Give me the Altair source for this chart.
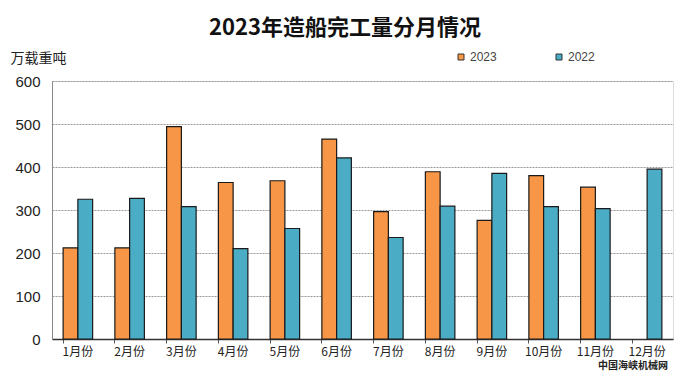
import altair as alt
import pandas as pd

months = ["1月份", "2月份", "3月份", "4月份", "5月份", "6月份",
          "7月份", "8月份", "9月份", "10月份", "11月份", "12月份"]
v2023 = [212, 212, 494, 364, 368, 465, 296, 389, 276, 380, 353, None]
v2022 = [325, 327, 308, 210, 257, 421, 236, 309, 385, 308, 303, 395]
series = ["2023", "2022"]
colors = ["#F79646", "#4BACC6"]
title_text = "2023年造船完工量分月情况"
source_text = "中国海峡机械网"

rows = []
for m, a, b in zip(months, v2023, v2022):
    if a is not None:
        rows.append({"month": m, "year": "2023", "value": a})
    if b is not None:
        rows.append({"month": m, "year": "2022", "value": b})
df = pd.DataFrame(rows)

FONT = "Noto Sans CJK SC"

bars = alt.Chart(df).mark_bar(stroke="#1a1a1a", strokeWidth=1.2).encode(
    x=alt.X("month:N", sort=months,
            scale=alt.Scale(paddingInner=0.43, paddingOuter=0.215),
            axis=alt.Axis(title=None, labelAngle=0, labelFont=FONT, labelFontSize=12,
                          labelColor="#222", labelPadding=3, bandPosition=0,
                          tickSize=4, tickColor="#555", domainColor="#333",
                          domainWidth=1.5, grid=False)),
    xOffset=alt.XOffset("year:N", sort=series, scale=alt.Scale(domain=series)),
    y=alt.Y("value:Q", scale=alt.Scale(domain=[0, 600]),
            axis=alt.Axis(title="万载重吨", titleAngle=0, titleX=-42, titleY=-23,
                          titleAlign="left", titleBaseline="middle",
                          titleFont=FONT, titleFontSize=14, titleFontWeight="normal",
                          titleColor="#222",
                          values=[0, 100, 200, 300, 400, 500, 600],
                          labelFont="Liberation Sans", labelFontSize=15,
                          labelColor="#222", labelPadding=12, ticks=False,
                          domainColor="#888", grid=True, gridColor="#999",
                          gridDash=[2, 1], gridWidth=1)),
    color=alt.Color("year:N", sort=series,
                    scale=alt.Scale(domain=series, range=colors),
                    legend=alt.Legend(title=None, orient="none", direction="horizontal",
                                      legendX=403, legendY=-30, symbolType="square",
                                      symbolSize=36, symbolStrokeColor="#333",
                                      symbolStrokeWidth=1, columnPadding=56,
                                      labelOffset=3,
                                      labelFont="Liberation Sans", labelFontSize=12,
                                      labelColor="#444")),
)

title = alt.Chart(pd.DataFrame({"t": [title_text]})).mark_text(
    font=FONT, fontSize=22, fontWeight="bold", color="#111", align="center", baseline="middle"
).encode(text="t:N", x=alt.value(293), y=alt.value(-53))

mark = alt.Chart(pd.DataFrame({"t": [source_text]})).mark_text(
    font=FONT, fontSize=10, fontWeight="bold", color="#222", align="right", baseline="alphabetic"
).encode(text="t:N", x=alt.value(616), y=alt.value(288))

chart = alt.layer(bars, title, mark).properties(
    width=621, height=258,
    autosize=alt.AutoSizeParams(type="none"),
    padding={"left": 44, "top": 73, "right": 5, "bottom": 34},
).configure_view(stroke=None).configure(background="white")

chart.save("out.html", embed_options={"renderer": "svg", "actions": False})
